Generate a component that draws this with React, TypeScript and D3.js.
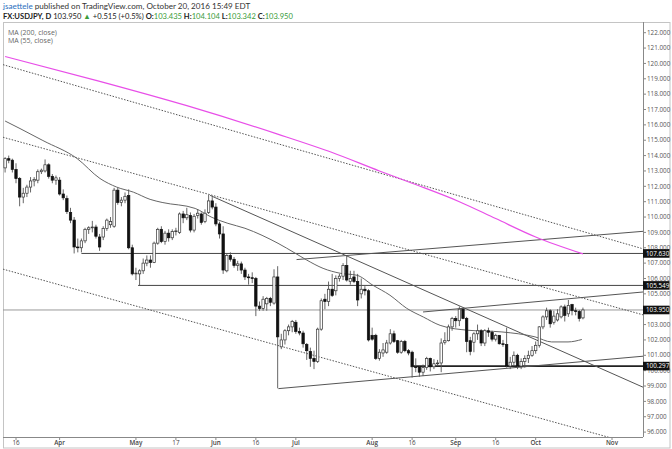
import React from 'react';
import * as d3 from 'd3';

const START = '2016-03-11';

const opens = [113.2,113.8,113.7,113.1,112.5,111.3,111.55,111.95,112.35,112.4,112.95,113.0,113.4,112.65,112.4,112.4,111.5,111.2,110.3,109.8,108.05,108.0,108.45,109.2,109.3,109.35,108.7,108.7,109.25,109.5,109.4,111.75,110.95,111.1,111.4,108.0,106.3,106.3,106.5,107.0,107.2,107.05,108.3,109.2,108.4,108.95,108.65,109.05,109.0,110.2,109.95,110.1,109.15,110.1,110.2,109.7,110.3,111.05,110.65,109.55,108.9,106.5,107.5,107.25,106.85,106.95,106.55,106.1,106.05,106.0,104.2,104.05,104.35,104.7,104.4,106.1,101.55,102.0,102.6,102.85,103.15,102.55,102.45,101.7,101.25,100.8,100.6,102.7,104.65,104.5,105.3,105.2,106.0,106.15,106.85,105.8,106.1,105.8,105.0,105.3,105.2,102.3,102.3,100.8,101.15,101.2,101.8,102.4,101.95,101.2,101.9,101.3,101.2,100.25,100.25,99.9,100.2,100.8,100.25,100.45,100.5,101.85,101.95,102.85,103.4,103.25,104.0,103.4,101.95,101.85,102.4,102.6,101.8,102.6,102.5,102.05,102.3,101.75,101.7,100.3,100.55,101.0,100.3,100.6,100.8,101.0,101.3,101.65,102.85,103.5,103.9,103.15,103.3,103.5,104.15,103.7,104.3,103.9,103.85,103.435];
const highs = [113.9,114.0,113.8,113.5,112.6,111.9,112.1,112.6,112.6,113.1,113.15,113.75,113.5,112.8,112.7,112.6,111.8,111.4,110.6,110.0,108.6,108.6,109.3,109.4,109.75,109.5,108.9,109.4,109.9,110.0,111.9,111.9,111.3,111.6,111.8,108.2,106.7,106.6,107.3,107.5,107.5,108.4,109.3,109.4,109.1,109.2,109.2,109.3,110.3,110.4,110.6,110.3,110.2,110.5,110.3,110.5,111.45,111.3,110.9,109.7,109.4,107.6,107.7,107.4,107.15,107.1,106.7,106.3,106.4,106.1,104.5,104.85,104.8,104.8,106.6,106.8,102.4,102.7,103.0,103.3,103.3,102.8,102.6,101.8,101.5,101.3,102.8,104.7,105.0,105.8,106.3,106.2,106.3,107.0,107.5,106.5,106.5,106.3,106.0,105.5,105.3,102.8,102.4,101.4,101.8,102.0,102.7,102.6,102.0,102.0,102.0,101.4,101.3,100.8,100.3,100.4,100.9,100.85,100.75,100.7,102.1,102.5,103.0,103.5,103.55,104.18,104.1,103.5,102.2,102.5,103.0,102.7,102.7,102.8,102.6,102.4,102.3,102.0,102.8,100.9,101.25,101.1,100.8,101.0,101.3,101.6,101.9,102.9,103.6,104.1,104.0,103.9,104.0,104.25,104.3,104.6,104.35,104.1,103.95,104.104];
const lows = [112.9,113.5,112.9,112.2,110.7,110.9,111.3,111.6,112.0,112.2,112.8,112.9,112.5,112.2,112.1,111.4,111.1,110.2,109.6,107.63,107.7,107.7,108.3,108.9,109.0,108.6,107.8,108.5,109.1,109.3,109.3,110.8,110.7,110.9,107.9,106.2,105.9,105.549,106.3,106.8,106.7,107.0,108.2,108.3,108.2,108.4,108.5,108.8,108.9,109.6,109.8,109.0,109.0,109.9,109.5,109.6,110.2,110.5,109.4,108.6,106.3,106.4,107.1,106.7,106.5,106.3,105.9,105.6,105.7,103.55,103.9,103.9,103.9,104.2,104.3,98.85,101.4,101.7,102.3,102.5,102.4,102.3,101.5,100.7,100.25,100.1,100.5,102.6,104.0,104.2,104.8,104.9,105.8,105.9,105.8,105.6,105.7,104.2,104.7,104.9,101.9,101.95,100.7,100.65,100.9,101.1,101.7,101.8,101.1,101.1,101.2,101.0,99.55,99.9,99.6,99.65,100.05,99.95,100.1,100.3,99.9,101.7,101.9,102.6,102.8,102.9,103.35,101.2,101.0,101.2,102.0,101.6,101.6,102.2,101.9,101.9,101.7,101.55,100.2,100.1,100.3,100.1,100.1,100.2,100.5,100.9,101.1,101.5,102.7,103.3,102.8,103.0,103.2,103.4,103.2,103.5,103.6,103.6,103.2,103.342];
const closes = [113.8,113.7,113.1,112.5,111.3,111.55,111.95,112.35,112.45,112.95,113.05,113.4,112.65,112.4,112.55,111.5,111.25,110.35,109.8,108.05,108.0,108.45,109.2,109.3,109.35,108.75,108.05,109.25,109.8,109.7,111.75,110.95,111.1,111.35,108.0,106.3,106.35,106.5,107.0,107.2,107.05,108.3,109.2,108.4,108.95,108.65,109.05,109.1,110.2,109.95,110.15,109.15,110.05,110.25,109.65,110.25,111.05,110.65,109.55,108.9,106.55,107.5,107.25,106.85,106.95,106.55,106.1,106.05,106.0,104.2,104.05,104.65,104.7,104.45,106.1,102.2,102.0,102.6,102.85,103.2,102.55,102.45,101.75,101.3,100.8,100.6,102.7,104.55,104.5,105.3,104.9,106.0,106.15,106.85,105.9,106.0,105.8,104.6,105.3,105.2,102.0,102.05,100.8,101.2,101.35,101.8,102.4,101.9,101.2,101.9,101.3,101.15,100.25,100.2,99.9,100.2,100.8,100.25,100.45,100.5,101.8,101.95,102.85,103.4,103.25,104.0,103.4,101.9,101.25,102.4,102.6,101.8,102.6,102.5,102.05,102.3,101.75,101.7,100.3,100.55,101.0,100.3,100.6,100.8,101.0,101.3,101.65,102.85,103.5,103.9,103.05,103.55,103.7,104.15,103.6,104.25,103.9,103.85,103.4,103.95];

const xTickDates = ['2016-03-16','2016-04-01','2016-05-02','2016-05-17','2016-06-01','2016-06-16','2016-07-01','2016-08-01','2016-08-16','2016-09-01','2016-09-16','2016-10-03','2016-11-01'];
const xTickLabels = ['16','Apr','May','17','Jun','16','Jul','Aug','16','Sep','16','Oct','Nov'];
const yTickValues = [96,97,98,99,100,101,102,103,104,105,106,107,108,109,110,111,112,113,114,115,116,117,118,119,120,121,122];

const ma200Idx = [0,25,50,75,90,103,112,125,135,146,159];
const ma200Val = [120.45,118.9,117.25,115.4,114.2,113.0,112.2,111.0,109.9,108.7,107.6];
const ma55Idx = [0,4.1,10.4,19.8,26.1,30.7,35.3,39.9,43.2,52.3,56.9,61.3,66.0,70.7,75.1,79.8,83.0,87.5,92.2,96.8,101.2,105.9,110.5,115.1,119.7,127.4,136.7,145.8,150.4,154.9,158.7];
const ma55Val = [116.25,115.76,114.98,113.81,112.51,111.95,111.62,111.15,110.95,110.56,109.98,109.59,109.27,108.81,108.29,107.65,107.2,106.66,106.34,106.21,105.56,104.91,104.06,103.49,102.95,102.63,102.52,102.2,101.87,101.87,102.03];

// dotted channel lines: two anchors (index, price), extended across the chart
const channelA = [0, 119.88, 150, 109.67];
const channelB = [0, 115.157, 150, 105.31];
const channelC = [0, 106.57, 150, 96.72];
// solid rays: start anchor and a second anchor, extended to the right
const rayD = [56.4, 111.41, 150, 101.6];
const rayE = [80.2, 107.23, 175.5, 109.07];
const rayF = [115.0, 103.82, 175.5, 105.12];
const rayG = [75.2, 98.83, 175.5, 100.94];
// horizontal levels
const levelPrices = [107.63, 105.549, 103.95, 100.297];
const levelStartIdx = [21, 36.6, -1, 112.3];
const levelLabels = ['107.630', '105.549', '103.950', '100.297'];

const parse = d3.utcParse('%Y-%m-%d');
function tradingIndex(s: string) {
  const a = parse(START)!, b = parse(s)!;
  let n = 0;
  for (const t of d3.utcDay.range(a, b)) {
    const w = t.getUTCDay();
    if (w !== 0 && w !== 6) n++;
  }
  return n;
}

const W = 672, H = 449;
const PL = 3, PR = 643, PT = 22, PB = 437;

export default function App() {
  const x = d3.scaleLinear().domain([0, 167]).range([5.1, 612]);
  const y = d3.scaleLinear().domain([96, 122]).range([432.1, 32.7]);
  const iLeft = x.invert(PL), iRight = x.invert(PR);

  const lineAt = (seg: number[], i: number) => seg[1] + (seg[3] - seg[1]) * (i - seg[0]) / (seg[2] - seg[0]);
  const segPath = (seg: number[], i0: number, i1: number) => `M${x(i0)},${y(lineAt(seg, i0))}L${x(i1)},${y(lineAt(seg, i1))}`;

  const ma200 = d3.line<number>().x((_, k) => x(ma200Idx[k])).y(d => y(d)).curve(d3.curveMonotoneX)(ma200Val)!;
  const ma55 = d3.line<number>().x((_, k) => x(ma55Idx[k])).y(d => y(d)).curve(d3.curveMonotoneX)(ma55Val)!;

  const font = "'Open Sans', 'DejaVu Sans', sans-serif";
  const bw = 2.4;

  return (
    <svg width={W} height={H} style={{ position: 'absolute', left: 0, top: 0, background: '#fff' }} fontFamily={font}>
      <defs>
        <clipPath id="plot"><rect x={PL} y={PT} width={PR - PL} height={PB - PT} /></clipPath>
      </defs>
      <rect x={0} y={0} width={W} height={H} fill="#fff" />
      {/* header */}
      <text x={3} y={9} fontSize={8.1} fill="#333" fontFamily="Lato, sans-serif">
        <tspan fill="#2a6fc0">jsaettele</tspan>
        <tspan> published on TradingView.com, October 20, 2016 15:49 EDT</tspan>
      </text>
      <text x={3} y={19} fontSize={7.6} fill="#222" fontFamily="Lato, sans-serif">
        <tspan fontWeight="bold">FX:USDJPY, D</tspan>
        <tspan> 103.950 </tspan>
        <tspan fill="#3a9c3a">▲</tspan>
        <tspan> +0.515 (+0.5%) </tspan>
        <tspan fontWeight="bold">O:</tspan><tspan fill="#3a9c3a">103.435</tspan>
        <tspan fontWeight="bold"> H:</tspan><tspan fill="#3a9c3a">104.104</tspan>
        <tspan fontWeight="bold"> L:</tspan><tspan fill="#3a9c3a">103.342</tspan>
        <tspan fontWeight="bold"> C:</tspan><tspan fill="#3a9c3a">103.950</tspan>
      </text>
      {/* frame */}
      <rect x={PL + 0.5} y={PT + 0.5} width={W - PL - 2.5} height={H - PT - 1.5} fill="none" stroke="#c4c4c4" />
      {/* legend */}
      <text x={8} y={34.5} fontSize={7} fill="#666">MA (200, close)</text>
      <text x={8} y={42.5} fontSize={7} fill="#666">MA (55, close)</text>

      <g clipPath="url(#plot)">
        {/* horizontal levels */}
        {levelPrices.map((p, k) => (
          <line key={'lv' + k} x1={x(Math.max(levelStartIdx[k], iLeft))} x2={PR} y1={y(p)} y2={y(p)}
            stroke={k === 2 ? '#9a9a9a' : k === 3 ? '#222' : '#444'} strokeWidth={k === 3 ? 1.6 : 1} />
        ))}
        {/* channel (dotted) */}
        {[channelA, channelB, channelC].map((s, k) => (
          <path key={'ch' + k} d={segPath(s, iLeft, iRight)} stroke="#555" strokeWidth={1} strokeDasharray="1.5,1.5" fill="none" />
        ))}
        {/* rays */}
        {[rayD, rayE, rayF, rayG].map((s, k) => (
          <path key={'ry' + k} d={segPath(s, s[0], iRight)} stroke="#555" strokeWidth={1} fill="none" />
        ))}
        {/* moving averages */}
        <path d={ma200} stroke="#e84fe8" strokeWidth={1.2} fill="none" />
        <path d={ma55} stroke="#666" strokeWidth={1} fill="none" />
        {/* candles */}
        {closes.map((c, i) => {
          const o = opens[i], up = c >= o;
          const cx = x(i);
          const top = y(Math.max(o, c)), bot = y(Math.min(o, c));
          return (
            <g key={'c' + i}>
              <line x1={cx} x2={cx} y1={y(highs[i])} y2={y(lows[i])} stroke="#555" strokeWidth={0.9} />
              <rect x={cx - bw / 2} y={top} width={bw} height={Math.max(bot - top, 0.8)}
                fill={up ? '#fff' : '#111'} stroke={up ? '#333' : '#111'} strokeWidth={0.7} />
            </g>
          );
        })}
      </g>

      {/* right axis */}
      <line x1={PR + 0.5} x2={PR + 0.5} y1={PT} y2={PB} stroke="#888" />
      {yTickValues.map(v => (
        <g key={'yt' + v}>
          <line x1={PR + 0.5} x2={PR + 3} y1={y(v)} y2={y(v)} stroke="#888" />
          <text x={PR + 4} y={y(v)} dy="0.35em" fontSize={6.3} fill="#555">{v.toFixed(3)}</text>
        </g>
      ))}
      {levelPrices.map((p, k) => (
        <g key={'lb' + k}>
          <rect x={PR} y={y(p) - 4.3} width={26.5} height={8.6} fill="#111" />
          <text x={PR + 3} y={y(p)} dy="0.35em" fontSize={6.3} fill="#fff">{levelLabels[k]}</text>
        </g>
      ))}

      {/* bottom axis */}
      <line x1={PL} x2={PR} y1={PB + 0.5} y2={PB + 0.5} stroke="#888" />
      {xTickDates.map((d, k) => {
        const xx = x(tradingIndex(d));
        const isMonth = isNaN(Number(xTickLabels[k]));
        return (
          <g key={'xt' + k}>
            <line x1={xx} x2={xx} y1={PB + 0.5} y2={PB + 3} stroke="#888" />
            <text x={xx} y={PB + 7.5} textAnchor="middle" fontSize={6.3} fill="#444" fontWeight={isMonth ? 600 : 400}>{xTickLabels[k]}</text>
          </g>
        );
      })}
    </svg>
  );
}
